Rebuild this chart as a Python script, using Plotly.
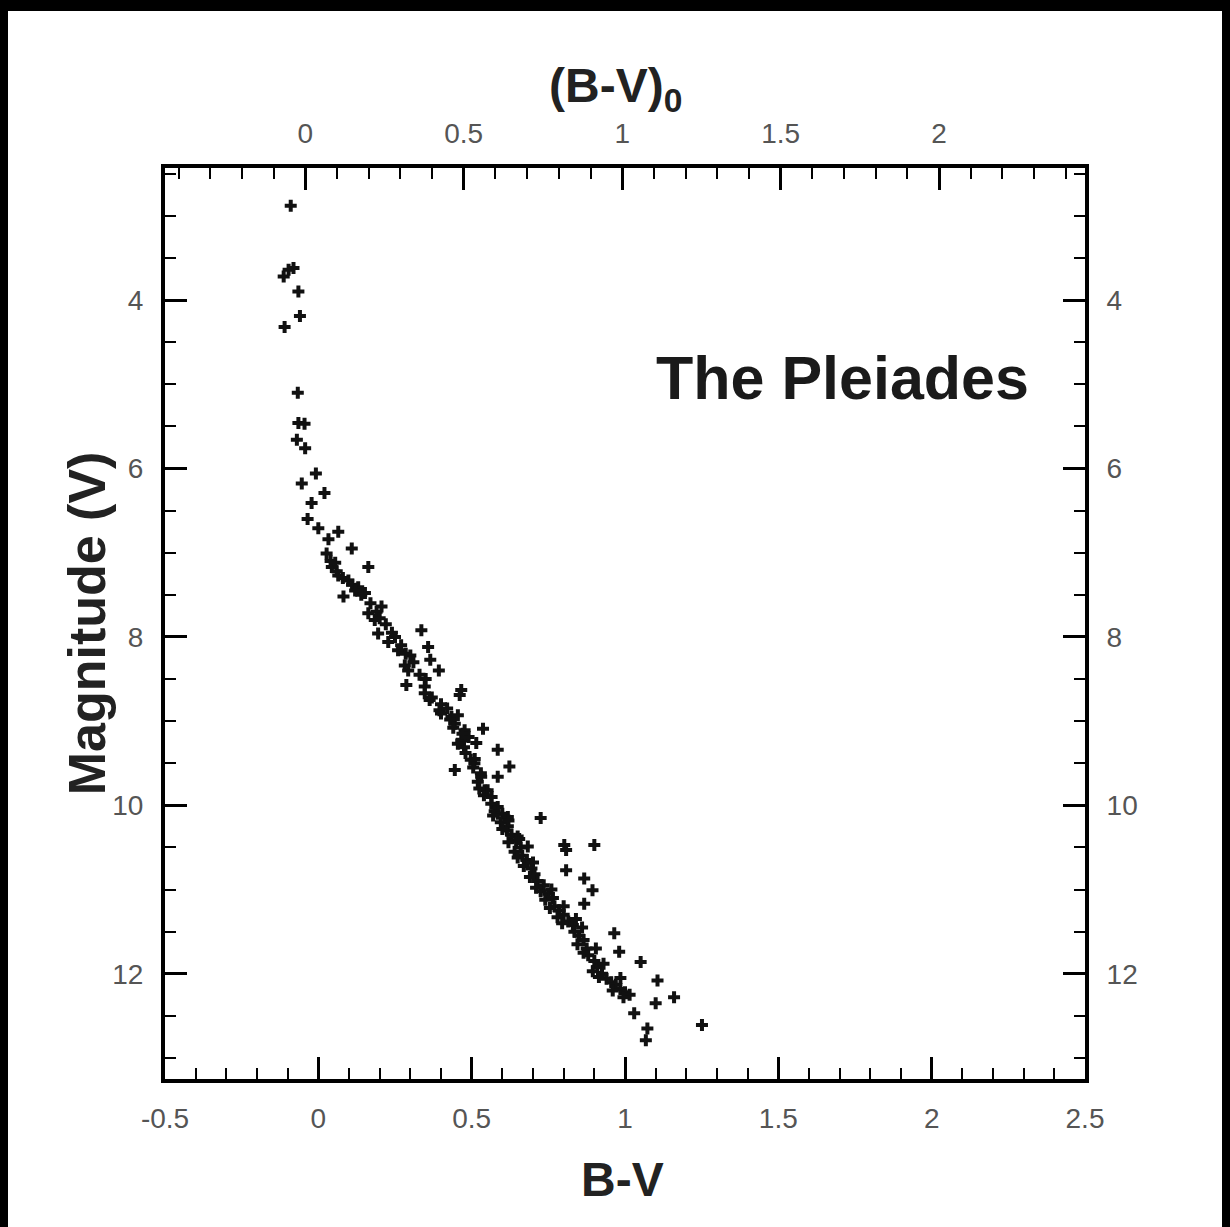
import plotly.graph_objects as go

# ---- data: Pleiades colour-magnitude diagram (B-V, V) ----
upper_sequence = [
    (-0.090, 2.88), (-0.097, 3.64), (-0.113, 3.72), (-0.081, 3.62), (-0.065, 3.90),
    (-0.060, 4.19), (-0.110, 4.32), (-0.067, 5.10), (-0.065, 5.46), (-0.045, 5.47),
    (-0.070, 5.66), (-0.043, 5.76), (-0.008, 6.06), (-0.054, 6.18), (0.020, 6.29),
    (-0.022, 6.41), (-0.035, 6.60), (0.000, 6.71), (0.065, 6.75), (0.033, 6.84),
    (0.109, 6.95), (0.027, 7.01), (0.044, 7.17), (0.163, 7.17), (0.065, 7.27),
    (0.098, 7.33), (0.130, 7.41), (0.082, 7.52), (0.152, 7.48), (0.206, 7.64),
    (0.163, 7.72), (0.184, 7.80), (0.336, 7.92), (0.195, 7.96), (0.228, 8.06),
    (0.260, 8.16), (0.358, 8.12), (0.365, 8.27), (0.282, 8.34), (0.293, 8.40),
    (0.393, 8.40), (0.287, 8.57), (0.347, 8.59), (0.466, 8.63), (0.461, 8.69),
    (0.363, 8.75), (0.395, 8.87), (0.434, 8.95),
]
upper_band = [
    (0.040, 7.10), (0.060, 7.22), (0.080, 7.30), (0.110, 7.38), (0.140, 7.50),
    (0.170, 7.60), (0.190, 7.70), (0.220, 7.85), (0.250, 8.00), (0.270, 8.10),
    (0.300, 8.22), (0.310, 8.30), (0.330, 8.45), (0.350, 8.50), (0.347, 8.67),
    (0.370, 8.72), (0.400, 8.80), (0.400, 8.91), (0.420, 8.85), (0.055, 7.12),
    (0.120, 7.45), (0.200, 7.78), (0.240, 7.95), (0.285, 8.20),
]
lower_scatter = [
    (0.445, 9.03), (0.477, 9.11), (0.537, 9.09), (0.466, 9.23), (0.490, 9.19),
    (0.515, 9.26), (0.585, 9.34), (0.445, 9.58), (0.509, 9.50), (0.623, 9.54),
    (0.531, 9.66), (0.585, 9.66), (0.542, 9.82), (0.564, 9.98), (0.585, 10.10),
    (0.725, 10.15), (0.618, 10.25), (0.650, 10.37), (0.683, 10.49), (0.802, 10.47),
    (0.900, 10.47), (0.808, 10.53), (0.808, 10.77), (0.867, 10.87), (0.894, 11.01),
    (0.867, 11.17), (0.965, 11.52), (0.981, 11.74), (1.051, 11.86), (1.106, 12.08),
    (1.160, 12.28), (1.100, 12.35), (1.030, 12.47), (1.073, 12.65), (1.068, 12.79),
    (1.251, 12.61),
]
lower_band = [
    (0.430, 8.98), (0.440, 9.08), (0.455, 8.93), (0.470, 9.15), (0.475, 9.31),
    (0.455, 9.27), (0.480, 9.38), (0.497, 9.46), (0.510, 9.45), (0.505, 9.55),
    (0.530, 9.62), (0.520, 9.72), (0.552, 9.82), (0.540, 9.88), (0.565, 9.90),
    (0.585, 10.02), (0.575, 10.07), (0.600, 10.10), (0.618, 10.14), (0.595, 10.20),
    (0.615, 10.30), (0.630, 10.35), (0.645, 10.42), (0.620, 10.44), (0.660, 10.50),
    (0.640, 10.55), (0.665, 10.60), (0.680, 10.65), (0.670, 10.72), (0.695, 10.75),
    (0.705, 10.82), (0.690, 10.85), (0.715, 10.90), (0.735, 10.95), (0.725, 11.02),
    (0.750, 11.05), (0.740, 11.12), (0.765, 11.10), (0.770, 11.20), (0.785, 11.25),
    (0.800, 11.30), (0.780, 11.33), (0.815, 11.38), (0.830, 11.42), (0.835, 11.50),
    (0.850, 11.55), (0.865, 11.60), (0.845, 11.65), (0.875, 11.70), (0.880, 11.78),
    (0.900, 11.85), (0.910, 11.92), (0.895, 11.97), (0.925, 12.00), (0.940, 12.06),
    (0.955, 12.10), (0.970, 12.13), (0.985, 12.18), (1.000, 12.22), (1.015, 12.25),
    (0.995, 12.28),
    (0.600, 10.28), (0.655, 10.40), (0.650, 10.62), (0.700, 10.68), (0.710, 10.98),
    (0.760, 11.00), (0.755, 11.22), (0.800, 11.20), (0.795, 11.40), (0.840, 11.35),
    (0.860, 11.45), (0.865, 11.75), (0.905, 11.70), (0.915, 12.04), (0.930, 11.88),
    (0.960, 12.20), (0.985, 12.05), (0.620, 10.18), (0.570, 10.12), (0.525, 9.80),
]

bottom_ticks = [-0.5, 0, 0.5, 1, 1.5, 2, 2.5]
bottom_labels = ["-0.5", "0", "0.5", "1", "1.5", "2", "2.5"]
top_ticks = [0, 0.5, 1, 1.5, 2]
top_labels = ["0", "0.5", "1", "1.5", "2"]
mag_ticks = [4, 6, 8, 10, 12]
mag_labels = ["4", "6", "8", "10", "12"]

x_range = [-0.5, 2.5]
x0_range = [-0.4427, 2.4604]
y_range = [13.25, 2.432]

stars = upper_sequence + upper_band + lower_scatter + lower_band
bv = [s[0] for s in stars]
vmag = [s[1] for s in stars]

# The page body has an 8px margin; the figure is laid out so the plot box sits
# where the reference box is on screen.
W, H = 1230, 1227
ML, MR, MT, MB = 157, 153, 160, 156
PW, PH = W - ML - MR, H - MT - MB
TICKFONT = dict(family="Liberation Sans Narrow, Liberation Sans, Arial, sans-serif", size=28, color="#555555")
TITLEFONT = dict(family="Liberation Sans, Arial, sans-serif", size=48, color="#222222")

fig = go.Figure()
fig.add_trace(go.Scatter(
    x=bv, y=vmag, mode="markers",
    marker=dict(symbol="cross", size=10, color="#111111", line=dict(width=0)),
    showlegend=False, hoverinfo="x+y",
))
# empty trace so the secondary (top / right) axes are created
fig.add_trace(go.Scatter(x=[], y=[], xaxis="x2", yaxis="y2", showlegend=False))

common = dict(ticks="inside", tickcolor="black", tickwidth=2.5, ticklen=22,
              showline=True, linecolor="black", linewidth=4, showgrid=False,
              zeroline=False, tickfont=TICKFONT)
minor_common = dict(ticks="inside", ticklen=11, tickwidth=2, tickcolor="black", tickmode="linear")

fig.update_layout(
    width=W, height=H,
    margin=dict(l=ML, r=MR, t=MT, b=MB, pad=0),
    paper_bgcolor="white", plot_bgcolor="white",
    xaxis=dict(range=x_range, tickmode="array", tickvals=bottom_ticks, ticktext=bottom_labels,
               minor=dict(tick0=-0.5, dtick=0.1, **minor_common), ticklabelstandoff=11,
               **common),
    xaxis2=dict(range=x0_range, overlaying="x", side="top", anchor="y",
                tickmode="array", tickvals=top_ticks, ticktext=top_labels,
                minor=dict(tick0=0, dtick=0.1, **minor_common), ticklabelstandoff=10,
                **common),
    yaxis=dict(range=y_range, tickmode="array", tickvals=mag_ticks, ticktext=mag_labels,
               minor=dict(tick0=0, dtick=0.5, **minor_common), ticklabelstandoff=12,
               **common),
    yaxis2=dict(range=y_range, overlaying="y", side="right", anchor="x",
                tickmode="array", tickvals=mag_ticks, ticktext=mag_labels,
                minor=dict(tick0=0, dtick=0.5, **minor_common), ticklabelstandoff=12,
                **common),
    annotations=[
        dict(text="<b>B-V</b>", xref="paper", yref="paper", x=0.497, y=0,
             xanchor="center", yanchor="middle", yshift=-100, showarrow=False, font=TITLEFONT),
        dict(text="<b>(B-V)<sub>0</sub></b>", xref="paper", yref="paper", x=0.49, y=1,
             xanchor="center", yanchor="middle", yshift=79, showarrow=False, font=TITLEFONT),
        dict(text="<b>Magnitude (V)</b>", xref="paper", yref="paper", x=-0.085, y=0.5,
             xanchor="center", yanchor="middle", textangle=-90, showarrow=False,
             font=dict(family="Liberation Sans, Arial, sans-serif", size=52, color="#222222")),
        dict(text="<b>The Pleiades</b>", xref="paper", yref="paper", x=0.736, y=0.770,
             xanchor="center", yanchor="middle", showarrow=False,
             font=dict(family="Liberation Sans, Arial, sans-serif", size=61, color="#1a1a1a")),
    ],
    shapes=[
        # thin extra black strip at the very top (rest of the frame is the black page margin)
        dict(type="rect", xref="paper", yref="paper", x0=-0.3, x1=1.3,
             y0=(H - MB - 3) / PH, y1=(H - MB + 5) / PH,
             fillcolor="black", line=dict(width=0), layer="above"),
    ],
)

fig.write_html("out.html", post_script="document.body.style.background='black';")
